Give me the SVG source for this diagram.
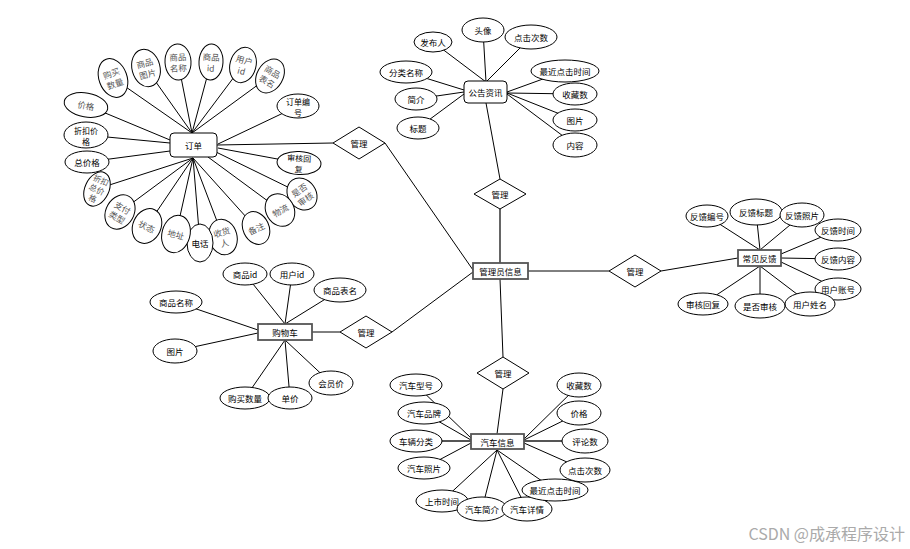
<svg xmlns="http://www.w3.org/2000/svg" width="910" height="549" viewBox="0 0 910 549">
<style>
.e{fill:#fff;stroke:#000;stroke-width:1}
.bx{fill:#fff;stroke:#000;stroke-width:1}
.bt{fill:#fff;stroke:#555;stroke-width:1.8}
.d{fill:#fff;stroke:#000;stroke-width:1}
.ln{stroke:#000;stroke-width:1;fill:none}
.lt{stroke:#555;stroke-width:1.8;fill:none}
text{font-family:"Noto Sans CJK SC","Liberation Sans",sans-serif;font-size:8.5px;fill:#000;text-anchor:middle;dominant-baseline:central}
.g{fill:#555;font-size:8.5px}
.s{font-size:8px}
.wm{font-size:16px;fill:#aaa;text-anchor:end;dominant-baseline:auto}
</style>
<rect width="910" height="549" fill="#fff"/>
<g id="connectors">
<line class="ln" x1="192" y1="133" x2="113" y2="78"/>
<line class="ln" x1="192" y1="133" x2="146" y2="68"/>
<line class="ln" x1="192" y1="133" x2="178" y2="62"/>
<line class="ln" x1="192" y1="133" x2="211" y2="62"/>
<line class="ln" x1="192" y1="133" x2="243" y2="65"/>
<line class="ln" x1="192" y1="133" x2="270" y2="76"/>
<line class="ln" x1="170" y1="140" x2="86" y2="105"/>
<line class="ln" x1="170" y1="143" x2="86" y2="135"/>
<line class="ln" x1="170" y1="151" x2="87" y2="162"/>
<line class="ln" x1="218" y1="144" x2="298" y2="106"/>
<line class="ln" x1="218" y1="148" x2="299" y2="163"/>
<line class="ln" x1="216" y1="152" x2="302" y2="194"/>
<line class="ln" x1="208" y1="157" x2="280" y2="210"/>
<line class="ln" x1="193" y1="158" x2="256" y2="228"/>
<line class="ln" x1="193" y1="158" x2="223" y2="237"/>
<line class="ln" x1="193" y1="158" x2="200" y2="243"/>
<line class="ln" x1="193" y1="158" x2="176" y2="234"/>
<line class="ln" x1="193" y1="158" x2="147" y2="226"/>
<line class="ln" x1="193" y1="158" x2="120" y2="212"/>
<line class="ln" x1="193" y1="158" x2="97" y2="189"/>
<line class="ln" x1="217" y1="145" x2="333" y2="143"/>
<line class="ln" x1="385" y1="143" x2="473" y2="270"/>
<line class="ln" x1="486" y1="82" x2="483" y2="30"/>
<line class="ln" x1="486" y1="82" x2="433" y2="42"/>
<line class="ln" x1="486" y1="82" x2="531" y2="37"/>
<line class="ln" x1="464" y1="90" x2="406" y2="72"/>
<line class="ln" x1="464" y1="92" x2="416" y2="99"/>
<line class="ln" x1="464" y1="94" x2="418" y2="128"/>
<line class="ln" x1="507" y1="92" x2="565" y2="71"/>
<line class="ln" x1="507" y1="93" x2="575" y2="94"/>
<line class="ln" x1="507" y1="93" x2="575" y2="120"/>
<line class="ln" x1="507" y1="94" x2="575" y2="145"/>
<line class="ln" x1="486" y1="103" x2="500" y2="179"/>
<line class="lt" x1="500" y1="209" x2="500" y2="263"/>
<line class="ln" x1="528" y1="271" x2="609" y2="271"/>
<line class="ln" x1="661" y1="271" x2="738" y2="258"/>
<line class="ln" x1="760" y1="250" x2="707" y2="216"/>
<line class="ln" x1="760" y1="250" x2="756" y2="212"/>
<line class="ln" x1="760" y1="250" x2="802" y2="215"/>
<line class="ln" x1="781" y1="254" x2="838" y2="230"/>
<line class="ln" x1="781" y1="258" x2="838" y2="259"/>
<line class="ln" x1="781" y1="262" x2="838" y2="289"/>
<line class="ln" x1="760" y1="266" x2="703" y2="304"/>
<line class="ln" x1="760" y1="266" x2="760" y2="306"/>
<line class="ln" x1="760" y1="266" x2="810" y2="304"/>
<line class="ln" x1="285" y1="324" x2="245" y2="274"/>
<line class="ln" x1="285" y1="324" x2="292" y2="274"/>
<line class="ln" x1="285" y1="324" x2="340" y2="290"/>
<line class="ln" x1="258" y1="330" x2="176" y2="302"/>
<line class="ln" x1="258" y1="333" x2="175" y2="351"/>
<line class="ln" x1="285" y1="340" x2="245" y2="398"/>
<line class="ln" x1="285" y1="340" x2="290" y2="398"/>
<line class="ln" x1="285" y1="340" x2="331" y2="383"/>
<line class="ln" x1="312" y1="332" x2="340" y2="332"/>
<line class="ln" x1="392" y1="332" x2="473" y2="272"/>
<line class="ln" x1="500" y1="279" x2="503" y2="357"/>
<line class="ln" x1="503" y1="389" x2="497" y2="434"/>
<line class="ln" x1="471" y1="438" x2="416" y2="385"/>
<line class="ln" x1="471" y1="440" x2="424" y2="413"/>
<line class="lt" x1="471" y1="441" x2="416" y2="441"/>
<line class="ln" x1="471" y1="443" x2="424" y2="468"/>
<line class="ln" x1="497" y1="450" x2="442" y2="501"/>
<line class="ln" x1="497" y1="450" x2="482" y2="509"/>
<line class="ln" x1="497" y1="450" x2="527" y2="509"/>
<line class="ln" x1="497" y1="450" x2="555" y2="490"/>
<line class="ln" x1="524" y1="439" x2="579" y2="385"/>
<line class="ln" x1="524" y1="440" x2="579" y2="413"/>
<line class="lt" x1="524" y1="441" x2="585" y2="441"/>
<line class="ln" x1="524" y1="443" x2="585" y2="470"/>
</g>

<g id="order"><rect class="bx" x="170" y="133" width="47" height="24" rx="4"/><text x="193.5" y="145">订单</text></g>
<g id="o-jiage" transform="translate(86,105) rotate(10)"><ellipse class="e" rx="22" ry="12"/><text class="g">价格</text></g>
<g id="o-goumaishuliang" transform="translate(113,78) rotate(-20)"><ellipse class="e" rx="14" ry="20"/><text class="g" y="-5.5">购买</text><text class="g" y="5.5">数量</text></g>
<g id="o-shangpintupian" transform="translate(146,68) rotate(-15)"><ellipse class="e" rx="14" ry="19"/><text class="g" y="-5.5">商品</text><text class="g" y="5.5">图片</text></g>
<g id="o-shangpinmingcheng" transform="translate(178,62) rotate(-3)"><ellipse class="e" rx="13" ry="18"/><text class="g" y="-5.5">商品</text><text class="g" y="5.5">名称</text></g>
<g id="o-shangpinid" transform="translate(211,62) rotate(3)"><ellipse class="e" rx="12" ry="18"/><text class="g" y="-5.5">商品</text><text class="g" y="5.5">id</text></g>
<g id="o-yonghuid" transform="translate(243,65) rotate(15)"><ellipse class="e" rx="13" ry="18"/><text class="g" y="-5.5">用户</text><text class="g" y="5.5">id</text></g>
<g id="o-shangpinbiaoming" transform="translate(270,76) rotate(30)"><ellipse class="e" rx="13" ry="18"/><text class="g" y="-5.5">商品</text><text class="g" y="5.5">表名</text></g>
<g id="o-dingdanbianhao" transform="translate(298,106)"><ellipse class="e" rx="21" ry="12"/><text class="s" y="-5">订单编</text><text class="s" y="6">号</text></g>
<g id="o-shenhehuifu" transform="translate(299,163) rotate(3)"><ellipse class="e" rx="22" ry="11.5"/><text class="s" y="-5">审核回</text><text class="s" y="6">复</text></g>
<g id="o-shifoushenhe" transform="translate(302,194) rotate(-35)"><ellipse class="e" rx="14" ry="17"/><text class="g" y="-5.5">是否</text><text class="g" y="5.5">审核</text></g>
<g id="o-wuliu" transform="translate(280,210) rotate(-30)"><ellipse class="e" rx="14" ry="17"/><text class="g">物流</text></g>
<g id="o-beizhu" transform="translate(256,228) rotate(-25)"><ellipse class="e" rx="13" ry="17"/><text class="g">备注</text></g>
<g id="o-shouhuoren" transform="translate(223,237) rotate(-15)"><ellipse class="e" rx="14" ry="18"/><text class="g" y="-5.5">收货</text><text class="g" y="5.5">人</text></g>
<g id="o-dianhua" transform="translate(200,243)"><ellipse class="e" rx="13" ry="19"/><text>电话</text></g>
<g id="o-dizhi" transform="translate(176,234) rotate(15)"><ellipse class="e" rx="14" ry="19"/><text class="g">地址</text></g>
<g id="o-zhuangtai" transform="translate(147,226) rotate(25)"><ellipse class="e" rx="14" ry="18"/><text class="g">状态</text></g>
<g id="o-zhifuleixing" transform="translate(120,212) rotate(30)"><ellipse class="e" rx="14" ry="18"/><text class="g" y="-5.5">支付</text><text class="g" y="5.5">类型</text></g>
<g id="o-zhekouzongjiage" transform="translate(97,189) rotate(25)"><ellipse class="e" rx="12" ry="18"/><text class="g s" y="-10">折扣</text><text class="g s" y="0">总价</text><text class="g s" y="10">格</text></g>
<g id="o-zongjiage" transform="translate(87,162)"><ellipse class="e" rx="22" ry="11"/><text>总价格</text></g>
<g id="o-zhekoujiage" transform="translate(86,135)"><ellipse class="e" rx="22" ry="13"/><text class="s" y="-5">折扣价</text><text class="s" y="6">格</text></g>
<g id="dia-order"><polygon class="d" points="333,143 359,127 385,143 359,159"/><text x="359" y="143">管理</text></g>

<g id="admin"><rect class="bt" x="473" y="263" width="55" height="16"/><text x="500.5" y="271">管理员信息</text></g>

<g id="notice"><rect class="bx" x="464" y="81" width="43" height="22" rx="4"/><text x="485.5" y="92">公告资讯</text></g>
<g id="n-touxiang"><ellipse class="e" cx="483" cy="30" rx="21" ry="12"/><text x="483" y="30">头像</text></g>
<g id="n-dianjicishu"><ellipse class="e" cx="531" cy="37" rx="26" ry="12"/><text x="531" y="37">点击次数</text></g>
<g id="n-faburen"><ellipse class="e" cx="433" cy="42" rx="19" ry="10"/><text x="433" y="42">发布人</text></g>
<g id="n-fenleimingcheng"><ellipse class="e" cx="406" cy="72" rx="26" ry="11"/><text x="406" y="72">分类名称</text></g>
<g id="n-jianjie"><ellipse class="e" cx="416" cy="99" rx="21" ry="11"/><text x="416" y="99">简介</text></g>
<g id="n-biaoti"><ellipse class="e" cx="418" cy="128" rx="21" ry="11"/><text x="418" y="128">标题</text></g>
<g id="n-zuijindianjishijian"><ellipse class="e" cx="565" cy="71" rx="34" ry="11"/><text x="565" y="71">最近点击时间</text></g>
<g id="n-shoucangshu"><ellipse class="e" cx="575" cy="94" rx="22" ry="11"/><text x="575" y="94">收藏数</text></g>
<g id="n-tupian"><ellipse class="e" cx="575" cy="120" rx="22" ry="11"/><text x="575" y="120">图片</text></g>
<g id="n-neirong"><ellipse class="e" cx="575" cy="145" rx="22" ry="12"/><text x="575" y="145">内容</text></g>
<g id="dia-notice"><polygon class="d" points="474,194 500,179 526,194 500,209"/><text x="500" y="194">管理</text></g>

<g id="feedback"><rect class="bt" x="738" y="250" width="43" height="16"/><text x="759.5" y="258">常见反馈</text></g>
<g id="f-bianhao"><ellipse class="e" cx="707" cy="216" rx="21" ry="11"/><text x="707" y="216">反馈编号</text></g>
<g id="f-biaoti"><ellipse class="e" cx="756" cy="212" rx="26" ry="13"/><text x="756" y="212">反馈标题</text></g>
<g id="f-zhaopian"><ellipse class="e" cx="802" cy="215" rx="22" ry="12"/><text x="802" y="215">反馈照片</text></g>
<g id="f-shijian"><ellipse class="e" cx="838" cy="230" rx="23" ry="11"/><text x="838" y="230">反馈时间</text></g>
<g id="f-neirong"><ellipse class="e" cx="838" cy="259" rx="23" ry="11"/><text x="838" y="259">反馈内容</text></g>
<g id="f-zhanghao"><ellipse class="e" cx="838" cy="289" rx="23" ry="11"/><text x="838" y="289">用户账号</text></g>
<g id="f-xingming"><ellipse class="e" cx="810" cy="304" rx="25" ry="12"/><text x="810" y="304">用户姓名</text></g>
<g id="f-shifoushenhe"><ellipse class="e" cx="760" cy="306" rx="25" ry="12"/><text x="760" y="306">是否审核</text></g>
<g id="f-shenhehuifu"><ellipse class="e" cx="703" cy="304" rx="25" ry="11"/><text x="703" y="304">审核回复</text></g>
<g id="dia-feedback"><polygon class="d" points="609,271 635,255 661,271 635,287"/><text x="635" y="271">管理</text></g>

<g id="cart"><rect class="bt" x="258" y="324" width="54" height="16"/><text x="285" y="332">购物车</text></g>
<g id="c-shangpinid"><ellipse class="e" cx="245" cy="274" rx="22" ry="11"/><text x="245" y="274">商品id</text></g>
<g id="c-yonghuid"><ellipse class="e" cx="292" cy="274" rx="22" ry="11"/><text x="292" y="274">用户id</text></g>
<g id="c-shangpinbiaoming"><ellipse class="e" cx="340" cy="290" rx="26" ry="12"/><text x="340" y="290">商品表名</text></g>
<g id="c-shangpinmingcheng"><ellipse class="e" cx="176" cy="302" rx="26" ry="11"/><text x="176" y="302">商品名称</text></g>
<g id="c-tupian"><ellipse class="e" cx="175" cy="351" rx="22" ry="12"/><text x="175" y="351">图片</text></g>
<g id="c-huiyuanjia"><ellipse class="e" cx="331" cy="383" rx="22" ry="12"/><text x="331" y="383">会员价</text></g>
<g id="c-goumaishuliang"><ellipse class="e" cx="245" cy="398" rx="25" ry="11"/><text x="245" y="398">购买数量</text></g>
<g id="c-danjia"><ellipse class="e" cx="290" cy="398" rx="22" ry="11"/><text x="290" y="398">单价</text></g>
<g id="dia-cart"><polygon class="d" points="340,332 366,316 392,332 366,348"/><text x="366" y="332">管理</text></g>

<g id="car"><rect class="bt" x="471" y="434" width="53" height="15"/><text x="497.5" y="441.5">汽车信息</text></g>
<g id="dia-car"><polygon class="d" points="477,373 503,357 529,373 503,389"/><text x="503" y="373">管理</text></g>
<g id="v-xinghao"><ellipse class="e" cx="416" cy="385" rx="26" ry="11"/><text x="416" y="385">汽车型号</text></g>
<g id="v-pinpai"><ellipse class="e" cx="424" cy="413" rx="26" ry="11"/><text x="424" y="413">汽车品牌</text></g>
<g id="v-fenlei"><ellipse class="e" cx="416" cy="441" rx="26" ry="11"/><text x="416" y="441">车辆分类</text></g>
<g id="v-zhaopian"><ellipse class="e" cx="424" cy="468" rx="26" ry="11"/><text x="424" y="468">汽车照片</text></g>
<g id="v-shangshishijian"><ellipse class="e" cx="442" cy="501" rx="26" ry="11"/><text x="442" y="501">上市时间</text></g>
<g id="v-jianjie"><ellipse class="e" cx="482" cy="509" rx="25" ry="12"/><text x="482" y="509">汽车简介</text></g>
<g id="v-xiangqing"><ellipse class="e" cx="527" cy="509" rx="25" ry="12"/><text x="527" y="509">汽车详情</text></g>
<g id="v-zuijindianjishijian"><ellipse class="e" cx="555" cy="490" rx="33" ry="11"/><text x="555" y="490">最近点击时间</text></g>
<g id="v-shoucangshu"><ellipse class="e" cx="579" cy="385" rx="22" ry="12"/><text x="579" y="385">收藏数</text></g>
<g id="v-jiage"><ellipse class="e" cx="579" cy="413" rx="22" ry="12"/><text x="579" y="413">价格</text></g>
<g id="v-pinglunshu"><ellipse class="e" cx="585" cy="441" rx="23" ry="12"/><text x="585" y="441">评论数</text></g>
<g id="v-dianjicishu"><ellipse class="e" cx="585" cy="470" rx="25" ry="12"/><text x="585" y="470">点击次数</text></g>

<text class="wm" x="905" y="540">CSDN @成承程序设计</text>
</svg>
